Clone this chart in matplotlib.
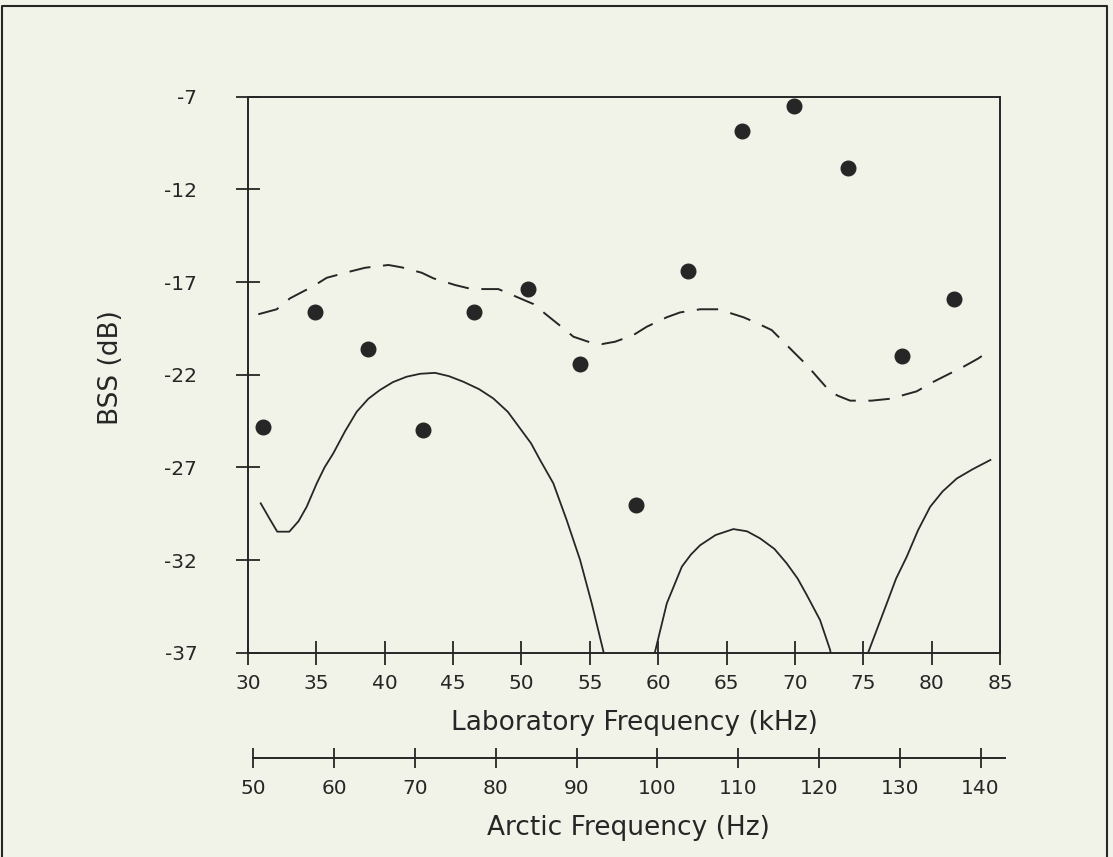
import numpy as np
import matplotlib
matplotlib.use('Agg')
import matplotlib.pyplot as plt
from matplotlib.lines import Line2D

# measured points (lab frequency, BSS)
meas_khz = [31.1, 34.9, 38.8, 42.8, 46.55, 50.5, 54.3, 58.4, 62.15, 66.1, 69.9, 73.9, 77.8, 81.65]
meas_bss = [-24.8, -18.6, -20.6, -25.0, -18.6, -17.35, -21.4, -29.05, -16.4, -8.85, -7.5, -10.85, -21.0, -17.9]

# solid curve, three lobes (clipped at the bottom axis)
solid_khz = [30.93, 31.6, 32.14, 33.02, 33.7, 34.29, 35.03, 35.6, 36.24, 37.1, 37.95, 38.8, 39.64, 40.6,
             41.6, 42.6, 43.68, 44.7, 45.75, 46.9, 47.94, 49.0, 49.9, 50.7, 51.36, 52.33, 53.31, 54.29,
             55.14, 56.0, 56.4,
             59.4, 59.77, 60.63, 61.73, 62.4, 63.07, 64.2, 65.5, 66.5, 67.45, 68.5, 69.4, 70.2, 70.87,
             71.84, 72.58, 72.9,
             75.1, 75.38, 76.72, 77.4, 78.18, 79.0, 79.89, 80.8, 81.84, 83.0, 84.3]
solid_bss = [-28.94, -29.8, -30.47, -30.47, -29.9, -29.13, -27.86, -27.0, -26.24, -25.05, -24.0, -23.3,
             -22.83, -22.4, -22.11, -21.95, -21.9, -22.08, -22.38, -22.78, -23.28, -24.0, -24.9, -25.7,
             -26.6, -27.86, -29.85, -32.0, -34.34, -36.95, -38.5,
             -38.5, -36.95, -34.34, -32.36, -31.7, -31.2, -30.65, -30.33, -30.45, -30.83, -31.4, -32.18,
             -33.0, -33.89, -35.24, -36.86, -38.5,
             -38.5, -36.95, -34.34, -33.0, -31.82, -30.4, -29.13, -28.3, -27.6, -27.1, -26.6]

# dashed curve
dash_khz = [30.75, 32.1, 33.07, 34.78, 35.76, 37.59, 38.56, 40.27, 41.25, 42.71, 43.56, 45.14, 46.36,
            48.31, 49.17, 50.88, 51.85, 53.07, 53.8, 55.0, 55.87, 56.85, 58.19, 59.17, 60.63, 61.6,
            63.07, 64.4, 66.23, 67.09, 68.3, 69.03, 70.25, 70.87, 71.6, 72.58, 73.19, 74.04, 75.6,
            77.2, 77.93, 78.9, 80.14, 81.35, 82.33, 83.42, 84.3]
dash_bss = [-18.74, -18.47, -17.88, -17.22, -16.77, -16.41, -16.23, -16.08, -16.21, -16.5, -16.8, -17.16,
            -17.38, -17.38, -17.65, -18.19, -18.78, -19.5, -19.95, -20.25, -20.35, -20.22, -19.86, -19.41,
            -18.9, -18.64, -18.47, -18.47, -18.9, -19.17, -19.59, -20.13, -21.03, -21.48, -22.1, -22.92,
            -23.15, -23.4, -23.4, -23.28, -23.1, -22.9, -22.38, -21.93, -21.57, -21.12, -20.67]

lab_ticks = [30, 35, 40, 45, 50, 55, 60, 65, 70, 75, 80, 85]
bss_ticks = [-7, -12, -17, -22, -27, -32, -37]
arctic_ticks = [50, 60, 70, 80, 90, 100, 110, 120, 130, 140]

BG = '#f2f3e8'
INK = '#262626'
W, H = 1113, 857

plt.rcParams['font.family'] = ['DejaVu Sans']
plt.rcParams['axes.unicode_minus'] = False

fig = plt.figure(figsize=(W / 100, H / 100), dpi=100, facecolor=BG)
ax = fig.add_axes([248 / W, 1 - 652.7 / H, 752 / W, 556 / H], facecolor=BG)

ax.plot(solid_khz, solid_bss, color=INK, lw=1.3)
ax.plot(dash_khz, dash_bss, color=INK, lw=1.4, linestyle=(0, (11, 6.5)))
ax.plot(meas_khz, meas_bss, 'o', color=INK, markersize=10.5, clip_on=False)

ax.set_xlim(30, 85)
ax.set_ylim(-37, -7)
ax.set_xticks(lab_ticks)
ax.set_yticks(bss_ticks)
ax.tick_params(direction='inout', length=17, width=1.3, color=INK,
               labelsize=14.5, labelcolor=INK)
ax.tick_params(axis='x', pad=7)
ax.tick_params(axis='y', pad=28)
for sp in ax.spines.values():
    sp.set_color(INK)
    sp.set_linewidth(1.4)

ax.set_xlabel('Laboratory Frequency (kHz)', fontsize=19, color=INK)
ax.xaxis.label.set_va('center')
ax.xaxis.set_label_coords((634 - 248) / 752, (652.7 - 723) / 556)
ax.set_ylabel('BSS (dB)', fontsize=19, color=INK)
ax.yaxis.label.set_va('center')
ax.yaxis.set_label_coords((111 - 248) / 752, (652.7 - 368) / 556)

# second scale: arctic frequency
ax2 = fig.add_axes([253.3 / W, 1 - 758 / H, (1005 - 253.3) / W, 0.001])
ax2.patch.set_visible(False)
ax2.set_xlim(50, 50 + (1005 - 253.3) / 8.08)
ax2.set_yticks([])
for side in ['top', 'left', 'right']:
    ax2.spines[side].set_visible(False)
ax2.spines['bottom'].set_color(INK)
ax2.spines['bottom'].set_linewidth(1.4)
ax2.set_xticks(arctic_ticks)
ax2.tick_params(direction='inout', length=14, width=1.3, color=INK,
                labelsize=14.5, labelcolor=INK, pad=8)
ax2.set_xlabel('Arctic Frequency (Hz)', fontsize=19, color=INK)
ax2.xaxis.label.set_va('center')
ax2.xaxis.set_label_coords((628 - 253.3) / (1005 - 253.3), -70 / 0.857)

# page frame from the scan
fig.add_artist(Line2D([2 / W, 2 / W, 1107 / W, 1107 / W], [0, 1 - 6 / H, 1 - 6 / H, 0],
                      color=INK, lw=1.5, transform=fig.transFigure))

fig.savefig('out.png', dpi=100, facecolor=BG)
